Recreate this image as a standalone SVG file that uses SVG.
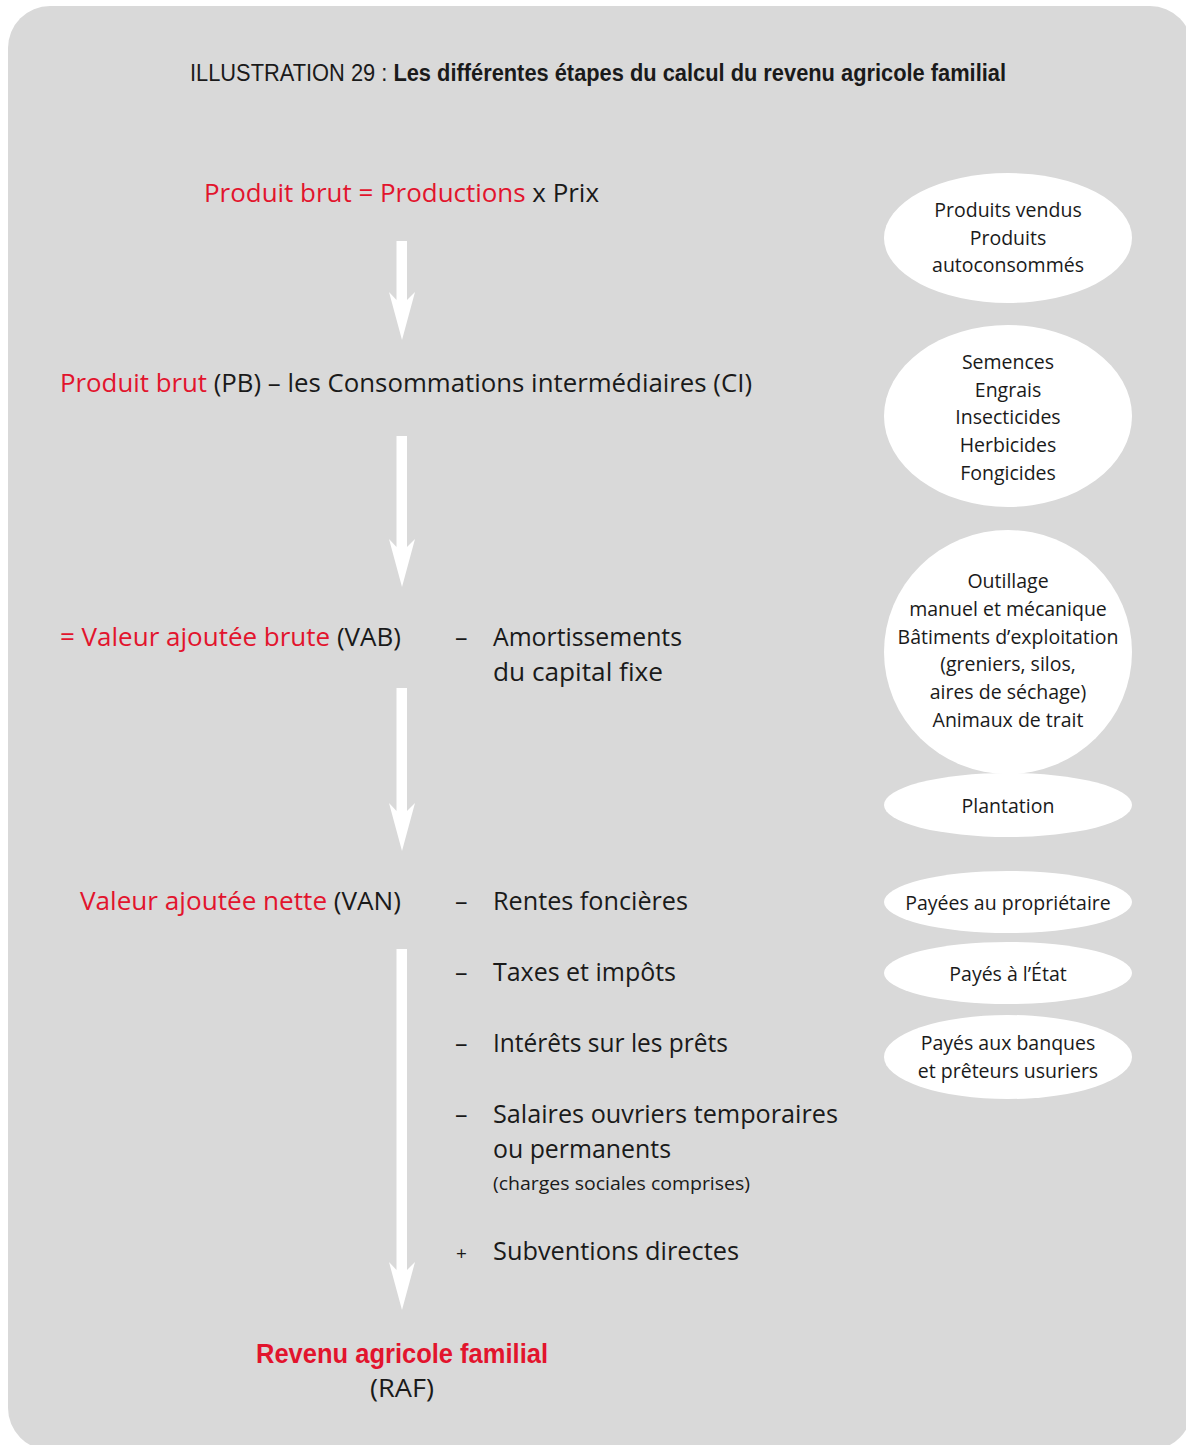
<svg xmlns="http://www.w3.org/2000/svg" width="1186" height="1445" viewBox="0 0 1186 1445">
<style>
.t{font-family:"Open Sans","Noto Sans","Liberation Sans",sans-serif;fill:#1a1a1a;font-variant-ligatures:none;}
.big{font-size:25px;}
.ell{font-size:19.5px;text-anchor:middle;}
.cond{font-family:"Liberation Sans Narrow","Liberation Sans",sans-serif;fill:#1a1a1a;}
.red{fill:#e2142d;}
.bub{fill:#ffffff;}
.arr{fill:#ffffff;}
</style>
<rect x="8" y="6" width="1184" height="1444" rx="42" ry="42" fill="#d9d9d9"/>
<text class="cond" x="190" y="81" font-size="23" textLength="816" lengthAdjust="spacingAndGlyphs">ILLUSTRATION 29 : <tspan font-weight="bold">Les différentes étapes du calcul du revenu agricole familial</tspan></text>

<g id="connectors">
<polygon class="arr" points="396.5,241 407,241 407,300 415,292 402,340 389,292 396.5,300"/>
<polygon class="arr" points="396.5,436 407,436 407,547 415,539 402,587 389,539 396.5,547"/>
<polygon class="arr" points="396.5,688 407,688 407,811 415,803 402,851 389,803 396.5,811"/>
<polygon class="arr" points="396.5,949 407,949 407,1270 415,1262 402,1310 389,1262 396.5,1270"/>
</g>

<g id="n-pb">
<text class="t big" x="204" y="202" textLength="395" lengthAdjust="spacingAndGlyphs"><tspan class="red">Produit brut = Productions</tspan> x Prix</text>
</g>
<g id="n-ci">
<text class="t big" x="60" y="392" textLength="692" lengthAdjust="spacingAndGlyphs"><tspan class="red">Produit brut</tspan> (PB) – les Consommations intermédiaires (CI)</text>
</g>
<g id="n-vab">
<text class="t big" x="60" y="646" textLength="341" lengthAdjust="spacingAndGlyphs"><tspan class="red">= Valeur ajoutée brute</tspan> (VAB)</text>
<text class="t big" x="455" y="646">–</text>
<text class="t big" x="493" y="646" textLength="189" lengthAdjust="spacingAndGlyphs">Amortissements</text>
<text class="t big" x="493" y="681" textLength="170" lengthAdjust="spacingAndGlyphs">du capital fixe</text>
</g>
<g id="n-van">
<text class="t big" x="80" y="910" textLength="321" lengthAdjust="spacingAndGlyphs"><tspan class="red">Valeur ajoutée nette</tspan> (VAN)</text>
<text class="t big" x="455" y="910">–</text>
<text class="t big" x="493" y="910" textLength="195" lengthAdjust="spacingAndGlyphs">Rentes foncières</text>
<text class="t big" x="455" y="981">–</text>
<text class="t big" x="493" y="981" textLength="183" lengthAdjust="spacingAndGlyphs">Taxes et impôts</text>
<text class="t big" x="455" y="1052">–</text>
<text class="t big" x="493" y="1052" textLength="235" lengthAdjust="spacingAndGlyphs">Intérêts sur les prêts</text>
<text class="t big" x="455" y="1123">–</text>
<text class="t big" x="493" y="1123" textLength="345" lengthAdjust="spacingAndGlyphs">Salaires ouvriers temporaires</text>
<text class="t big" x="493" y="1158" textLength="178" lengthAdjust="spacingAndGlyphs">ou permanents</text>
<text class="t" x="493" y="1190" font-size="19" textLength="257" lengthAdjust="spacingAndGlyphs">(charges sociales comprises)</text>
<text class="t" x="456" y="1260" font-size="19">+</text>
<text class="t big" x="493" y="1260" textLength="246" lengthAdjust="spacingAndGlyphs">Subventions directes</text>
</g>
<g id="n-raf">
<text class="cond red" x="256" y="1363" font-size="27" font-weight="bold" textLength="292" lengthAdjust="spacingAndGlyphs">Revenu agricole familial</text>
<text class="t big" x="370" y="1397" textLength="64" lengthAdjust="spacingAndGlyphs">(RAF)</text>
</g>

<g id="e-produits">
<ellipse class="bub" cx="1008" cy="238" rx="124" ry="65"/>
<text class="t ell" x="1008" y="217">Produits vendus</text>
<text class="t ell" x="1008" y="245">Produits</text>
<text class="t ell" x="1008" y="272">autoconsommés</text>
</g>
<g id="e-intrants">
<ellipse class="bub" cx="1008" cy="416" rx="124" ry="91"/>
<text class="t ell" x="1008" y="369">Semences</text>
<text class="t ell" x="1008" y="397">Engrais</text>
<text class="t ell" x="1008" y="424">Insecticides</text>
<text class="t ell" x="1008" y="452">Herbicides</text>
<text class="t ell" x="1008" y="480">Fongicides</text>
</g>
<g id="e-capital">
<ellipse class="bub" cx="1008" cy="652" rx="124" ry="122"/>
<text class="t ell" x="1008" y="588">Outillage</text>
<text class="t ell" x="1008" y="616">manuel et mécanique</text>
<text class="t ell" x="1008" y="644">Bâtiments d’exploitation</text>
<text class="t ell" x="1008" y="671">(greniers, silos,</text>
<text class="t ell" x="1008" y="699">aires de séchage)</text>
<text class="t ell" x="1008" y="727">Animaux de trait</text>
</g>
<g id="e-plantation">
<ellipse class="bub" cx="1008" cy="805" rx="124" ry="32"/>
<text class="t ell" x="1008" y="813">Plantation</text>
</g>
<g id="e-proprietaire">
<ellipse class="bub" cx="1008" cy="902" rx="124" ry="31"/>
<text class="t ell" x="1008" y="910">Payées au propriétaire</text>
</g>
<g id="e-etat">
<ellipse class="bub" cx="1008" cy="973" rx="124" ry="31"/>
<text class="t ell" x="1008" y="981">Payés à l’État</text>
</g>
<g id="e-banques">
<ellipse class="bub" cx="1008" cy="1057" rx="124" ry="42"/>
<text class="t ell" x="1008" y="1050">Payés aux banques</text>
<text class="t ell" x="1008" y="1078">et prêteurs usuriers</text>
</g>
</svg>
